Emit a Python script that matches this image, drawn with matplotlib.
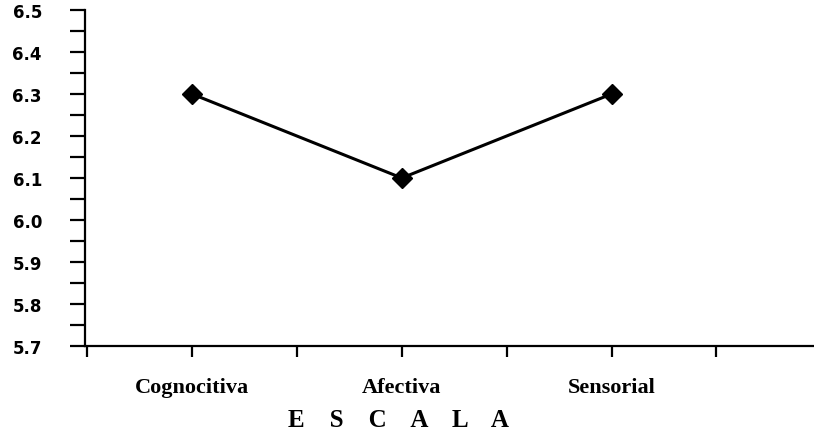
import matplotlib.pyplot as plt
from matplotlib.ticker import MultipleLocator

# data
categories = ['Cognocitiva', 'Afectiva', 'Sensorial']
positions = [1, 3, 5]
values = [6.30, 6.10, 6.30]
tick_positions = [0, 1, 2, 3, 4, 5, 6]

fig = plt.figure(figsize=(8.14, 4.39), dpi=100)
ax = fig.add_axes([85 / 814, (439 - 347) / 439, 1 - 85 / 814, (347 - 11) / 439])

ax.plot(positions, values, color='black', linewidth=2.2,
        marker='D', markersize=10, markerfacecolor='black', clip_on=False)

ax.set_ylim(5.7, 6.5)
ax.set_xlim(-0.02, 6.93)
ax.yaxis.set_major_locator(MultipleLocator(0.1))
ax.yaxis.set_minor_locator(MultipleLocator(0.05))
ax.yaxis.set_major_formatter(plt.FormatStrFormatter('%.1f'))

labels = {p: c for p, c in zip(positions, categories)}
ax.set_xticks(tick_positions)
ax.set_xticklabels([labels.get(t, '') for t in tick_positions],
                   family='Liberation Serif', fontweight='bold', fontsize=16)

ax.tick_params(axis='y', which='both', direction='out', length=11, width=1.6,
               pad=20, labelsize=12)
ax.tick_params(axis='x', direction='out', length=8, width=1.6, pad=14)
for lab in ax.get_yticklabels():
    lab.set_fontweight('bold')

for s in ['top', 'right']:
    ax.spines[s].set_visible(False)
for s in ['left', 'bottom']:
    ax.spines[s].set_linewidth(1.6)

fig.text(398 / 814, 1 - 421 / 439, 'E    S    C    A    L    A', ha='center', va='center',
         family='Liberation Serif', fontweight='bold', fontsize=18)

plt.savefig('out.png', dpi=100)
plt.close()
